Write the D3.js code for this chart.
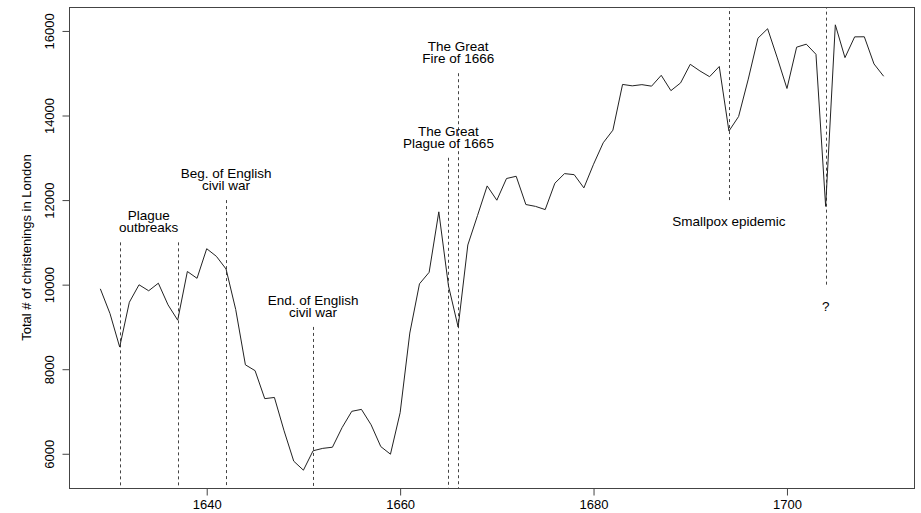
<!DOCTYPE html>
<html>
<head>
<meta charset="utf-8">
<script src="https://cdn.jsdelivr.net/npm/d3@7"></script>
<style>
  body { margin: 0; background: #fff; }
  svg text { font-family: "Liberation Sans", Arial, sans-serif; font-size: 13px; fill: #000; }
</style>
</head>
<body>
<svg id="chart" width="921" height="513"></svg>
<script>
// christenings in London (Arbuthnot), 1629-1710
const years = d3.range(1629, 1711);
const christenings = [
  9901, 9315, 8524, 9584, 9997, 9855, 10034, 9522, 9160, 10311,
  10150, 10850, 10670, 10370, 9410, 8104, 7966, 7304, 7332, 6544,
  5825, 5612, 6071, 6128, 6155, 6620, 7004, 7050, 6685, 6170,
  5990, 6971, 8855, 10019, 10292, 11722, 9972, 8997, 10938, 11633,
  12335, 11997, 12510, 12563, 11895, 11851, 11775, 12399, 12626, 12601,
  12288, 12847, 13355, 13653, 14735, 14702, 14730, 14694, 14951, 14588,
  14771, 15211, 15054, 14918, 15159, 13632, 13976, 14861, 15829, 16052,
  15363, 14639, 15616, 15687, 15448, 11851, 16145, 15369, 15860, 15862,
  15220, 14928
];

const xTicks = [1640, 1660, 1680, 1700];
const yTicks = [6000, 8000, 10000, 12000, 14000, 16000];

// event markers: year, where the dashed line starts, and which way it runs
const eventYears = [1631, 1637, 1642, 1651, 1665, 1666, 1694, 1704];
const eventLevels = [11000, 11000, 12000, 9000, 13000, 15000, 12000, 10000];
const eventDirection = ["down", "down", "down", "down", "down", "down", "up", "up"];

// labels: x (year), y (value), text lines
const labelYears = [1634, 1642, 1651, 1665, 1666, 1694, 1704];
const labelLevels = [11500, 12500, 9500, 13500, 15500, 11500, 9500];
const labelTexts = [
  ["Plague", "outbreaks"],
  ["Beg. of English", "civil war"],
  ["End. of English", "civil war"],
  ["The Great", "Plague of 1665"],
  ["The Great", "Fire of 1666"],
  ["Smallpox epidemic"],
  ["?"]
];

const data = years.map((y, i) => ({year: y, value: christenings[i]}));

const svg = d3.select("#chart");
const pLeft = 69, pRight = 915, pTop = 7, pBottom = 488;

// R style 4% padding on each side
const xExt = d3.extent(years), yExt = d3.extent(christenings);
const xPad = (xExt[1] - xExt[0]) * 0.04, yPad = (yExt[1] - yExt[0]) * 0.04;
const x = d3.scaleLinear().domain([xExt[0] - xPad, xExt[1] + xPad]).range([pLeft, pRight]);
const y = d3.scaleLinear().domain([yExt[0] - yPad, yExt[1] + yPad]).range([pBottom, pTop]);

svg.append("clipPath").attr("id", "clip")
  .append("rect").attr("x", pLeft).attr("y", pTop)
  .attr("width", pRight - pLeft).attr("height", pBottom - pTop);

// dashed event lines
svg.append("g").attr("clip-path", "url(#clip)")
  .selectAll("line")
  .data(eventYears)
  .enter()
  .append("line")
  .attr("x1", d => Math.round(x(d)) + 0.5)
  .attr("x2", d => Math.round(x(d)) + 0.5)
  .attr("y1", (d, i) => y(eventLevels[i]))
  .attr("y2", (d, i) => eventDirection[i] == "down" ? pBottom : pTop)
  .attr("stroke", "#444")
  .attr("stroke-width", 1)
  .attr("stroke-dasharray", "3,3");

// the series
const line = d3.line().x(d => x(d.year)).y(d => y(d.value));
svg.append("path")
  .datum(data)
  .attr("d", line)
  .attr("fill", "none")
  .attr("stroke", "#222")
  .attr("stroke-width", 1);

// labels
const labels = svg.append("g").selectAll("text")
  .data(labelTexts)
  .enter()
  .append("text")
  .attr("text-anchor", "middle")
  .style("font-size", "13.5px")
  .attr("transform", (d, i) => "translate(" + x(labelYears[i]) + "," + y(labelLevels[i]) + ")");

labels.selectAll("tspan")
  .data(d => d.map((t, j) => ({t: t, j: j, n: d.length})))
  .enter()
  .append("tspan")
  .attr("x", 0)
  .attr("y", d => (d.j - (d.n - 1) / 2) * 12 + 5)
  .text(d => d.t);

// box
svg.append("rect")
  .attr("x", pLeft + 0.5).attr("y", pTop + 0.5)
  .attr("width", pRight - pLeft - 1).attr("height", pBottom - pTop)
  .attr("fill", "none").attr("stroke", "#444");

// axes
const xAxis = svg.append("g")
  .attr("transform", "translate(0," + (pBottom + 0.5) + ")")
  .call(d3.axisBottom(x).tickValues(xTicks).tickFormat(d3.format("d")).tickSize(7).tickPadding(4));
xAxis.select(".domain").remove();
xAxis.selectAll("line").attr("stroke", "#444");
xAxis.selectAll("text").attr("font-size", 13).attr("font-family", "Liberation Sans, Arial, sans-serif");

const yAxis = svg.append("g")
  .attr("transform", "translate(" + (pLeft + 0.5) + ",0)")
  .call(d3.axisLeft(y).tickValues(yTicks).tickFormat(d3.format("d")).tickSize(7));
yAxis.select(".domain").remove();
yAxis.selectAll("line").attr("stroke", "#444");
yAxis.selectAll("text")
  .attr("font-size", 13).attr("font-family", "Liberation Sans, Arial, sans-serif")
  .attr("x", null).attr("dy", null)
  .attr("text-anchor", "middle")
  .attr("transform", "translate(-16,0) rotate(-90)");

// y title
svg.append("text")
  .attr("text-anchor", "middle")
  .attr("transform", "translate(31," + ((pTop + pBottom) / 2) + ") rotate(-90)")
  .text("Total # of christenings in London");
</script>
</body>
</html>
